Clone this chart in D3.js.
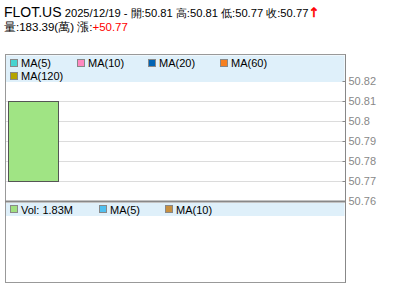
<!DOCTYPE html>
<html><head><meta charset="utf-8">
<script src="https://cdn.jsdelivr.net/npm/d3@7"></script>
<style>
html,body{margin:0;padding:0;background:#fff;}
svg{display:block;font-family:Arial,"Liberation Sans",sans-serif;}
</style></head>
<body><svg id="c" width="400" height="301"></svg>
<script>
const symbol = "FLOT.US";
const dates = ["2025/12/19"];
const opens = [50.81];
const highs = [50.81];
const lows = [50.77];
const closes = [50.77];
const volumesWan = [183.39];
const change = ["+50.77"];
const priceTicks = [50.76, 50.77, 50.78, 50.79, 50.8, 50.81, 50.82];
const mainLegend = ["MA(5)", "MA(10)", "MA(20)", "MA(60)", "MA(120)"];
const mainLegendColors = ["#48d4d0", "#ff88c0", "#0064b4", "#f68020", "#b4a400"];
const volLegend = ["Vol: 1.83M", "MA(5)", "MA(10)"];
const volLegendColors = ["#a0e080", "#50c0f0", "#c89040"];

const svg = d3.select("#c");
const L = 5, R = 345.5, T = 54.5, SEP = 201, B = 282.5;

// header
const h1 = svg.append("text").attr("x", 4).attr("y", 17).attr("fill", "#000");
h1.append("tspan").attr("font-size", 14).text(symbol);
h1.append("tspan").attr("font-size", 11.2).text(" " + dates[0] + " - 開:" + opens[0] + " 高:" + highs[0] + " 低:" + lows[0] + " 收:" + closes[0]);
h1.append("tspan").attr("font-size", 13).attr("fill", "#f00").attr("stroke", "#f00").attr("stroke-width", 0.6)
  .attr("font-family", "'DejaVu Sans',sans-serif").text("↑");
const h2 = svg.append("text").attr("x", 4).attr("y", 31).attr("font-size", 11.5).attr("fill", "#000");
h2.append("tspan").text("量:" + volumesWan[0].toFixed(2) + "(萬) 漲:");
h2.append("tspan").attr("fill", "#f00").text(change[0]);

// scales
const y = d3.scaleLinear().domain([50.76, 50.82]).range([SEP, 81]);
const x = d3.scaleBand().domain(d3.range(6)).range([L, R]).paddingInner(0.12).paddingOuter(0.05);

// grid
svg.append("g").selectAll("line").data(priceTicks.slice(1, -1)).join("line")
  .attr("x1", L).attr("x2", R).attr("y1", d => Math.round(y(d)) + 0.5).attr("y2", d => Math.round(y(d)) + 0.5)
  .attr("stroke", "#dcdcdc");

// legend backgrounds
svg.append("rect").attr("x", L + 1).attr("y", T + 1).attr("width", R - L - 2).attr("height", 82 - T - 1).attr("fill", "#dff0fa");
svg.append("rect").attr("x", L + 1).attr("y", SEP + 2).attr("width", R - L - 2).attr("height", 13).attr("fill", "#dff0fa");

// candle
const cand = dates.map((d, i) => ({ i, o: opens[i], c: closes[i], h: highs[i], l: lows[i] }));
svg.append("g").selectAll("line").data(cand).join("line")
  .attr("x1", d => x(d.i) + x.bandwidth() / 2).attr("x2", d => x(d.i) + x.bandwidth() / 2)
  .attr("y1", d => y(d.h)).attr("y2", d => y(d.l)).attr("stroke", "#555");
svg.append("g").selectAll("rect").data(cand).join("rect")
  .attr("x", d => Math.round(x(d.i)) + 0.5)
  .attr("y", d => Math.round(y(Math.max(d.o, d.c))) + 0.5)
  .attr("width", Math.round(x.bandwidth()))
  .attr("height", d => Math.abs(y(d.o) - y(d.c)))
  .attr("fill", d => d.c < d.o ? "#a0e484" : "#ff6060").attr("stroke", "#555");

// frame
svg.append("rect").attr("x", L + 0.5).attr("y", T).attr("width", R - L - 0.5).attr("height", B - T)
  .attr("fill", "none").attr("stroke", "#999");
svg.append("line").attr("x1", L).attr("x2", R).attr("y1", SEP + 0.5).attr("y2", SEP + 0.5).attr("stroke", "#888").attr("stroke-width", 2);

// right axis
const ax = svg.append("g").attr("transform", `translate(${R},0)`)
  .call(d3.axisRight(y).tickValues(priceTicks).tickSize(0).tickPadding(3).tickFormat(d => String(+d.toFixed(2))));
ax.select(".domain").remove();
ax.selectAll(".tick line").remove();
ax.selectAll(".tick").append("line").attr("x1", -3).attr("x2", 0).attr("stroke", "#888");
ax.selectAll("text").attr("font-size", 11).attr("fill", "#888").attr("font-family", "Arial,'Liberation Sans',sans-serif");
svg.append("line").attr("x1", R).attr("x2", R).attr("y1", T).attr("y2", B).attr("stroke", "#888");

// main legend
const mlPos = [[10, 59], [77, 59], [148, 59], [220, 59], [10, 72]];
const ml = svg.append("g").selectAll("g").data(mainLegend).join("g")
  .attr("transform", (d, i) => `translate(${mlPos[i][0]},${mlPos[i][1]})`);
ml.append("rect").attr("x", 0.5).attr("y", 0.5).attr("width", 7).attr("height", 7)
  .attr("fill", (d, i) => mainLegendColors[i]).attr("stroke", "#888");
ml.append("text").attr("x", 11).attr("y", 8).attr("font-size", 11).attr("fill", "#000").text(d => d);

// volume legend
const vlX = [10, 99, 165];
const vl = svg.append("g").selectAll("g").data(volLegend).join("g")
  .attr("transform", (d, i) => `translate(${vlX[i]},205)`);
vl.append("rect").attr("x", 0.5).attr("y", 0.5).attr("width", 7).attr("height", 7)
  .attr("fill", (d, i) => volLegendColors[i]).attr("stroke", "#888");
vl.append("text").attr("x", 11).attr("y", 8.5).attr("font-size", 11).attr("fill", "#000").text(d => d);
</script></body></html>
